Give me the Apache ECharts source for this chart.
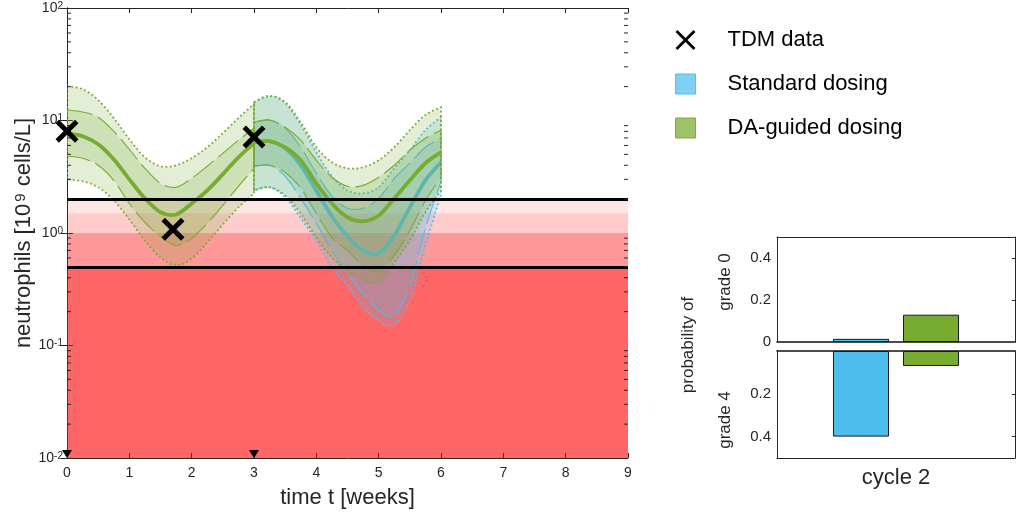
<!DOCTYPE html>
<html>
<head>
<meta charset="utf-8">
<script src="https://cdn.jsdelivr.net/npm/echarts@6/dist/echarts.min.js"></script>
<style>
  html, body { margin: 0; padding: 0; background: #fff; }
  #chart { width: 1016px; height: 514px; }
</style>
</head>
<body>
<div id="chart"></div>
<script>
// ---- neutrophil predictions (10^9 cells/L), weekly time axis ----
const weeksCycle1 = [0, 0.25, 0.5, 0.75, 1, 1.25, 1.5, 1.75, 2, 2.25, 2.5, 2.75, 3];
const weeksCycle2 = [3, 3.25, 3.5, 3.75, 4, 4.25, 4.5, 4.75, 5, 5.25, 5.5, 5.75, 6];

// cycle 1 (both arms identical)
const c1Upper90 = [20.2, 19.0, 15.2, 10.5, 6.82, 4.71, 3.92, 4.00, 4.62, 5.78, 7.71, 10.5, 14.0];
const c1Upper50 = [12.4, 11.9, 10.7, 8.03, 5.55, 3.76, 2.76, 2.55, 3.06, 3.92, 5.11, 6.68, 8.54];
const c1Median  = [7.71, 7.25, 6.15, 4.52, 3.00, 2.03, 1.53, 1.46, 1.83, 2.39, 3.33, 4.71, 6.28];
const c1Lower50 = [4.81, 4.62, 4.00, 2.94, 1.83, 1.24, 0.933, 0.776, 0.895, 1.22, 1.76, 2.60, 3.76];
const c1Lower90 = [3.00, 2.88, 2.55, 1.95, 1.32, 0.859, 0.606, 0.515, 0.594, 0.825, 1.19, 1.69, 2.25];

// cycle 2, DA-guided dosing
const daUpper90 = [14.6, 16.5, 14.6, 9.66, 5.78, 4.25, 3.76, 3.84, 4.43, 5.78, 8.20, 11.2, 13.1];
const daUpper50 = [9.66, 10.1, 8.72, 6.68, 4.43, 3.13, 2.60, 2.65, 3.13, 4.00, 5.44, 6.96, 8.20];
const daMedian  = [6.41, 6.54, 5.78, 4.43, 2.76, 1.83, 1.38, 1.27, 1.43, 2.03, 2.94, 4.17, 5.22];
const daLower50 = [3.92, 4.00, 3.46, 2.50, 1.49, 0.914, 0.700, 0.515, 0.455, 0.632, 1.05, 1.95, 3.06];
const daLower90 = [2.39, 2.55, 2.16, 1.49, 0.914, 0.606, 0.464, 0.386, 0.371, 0.547, 0.859, 1.53, 2.39];

// cycle 2, standard dosing
const stdUpper90 = [14.6, 16.5, 14.3, 9.08, 5.22, 3.19, 2.39, 2.25, 2.55, 3.76, 5.44, 8.20, 10.7];
const stdUpper50 = [9.66, 10.1, 8.54, 5.78, 3.39, 2.12, 1.66, 1.66, 2.03, 3.06, 4.17, 5.78, 6.96];
const stdMedian  = [6.41, 6.54, 5.67, 4.00, 2.39, 1.41, 0.933, 0.700, 0.658, 0.952, 1.69, 2.94, 4.25];
const stdLower50 = [3.92, 4.00, 3.19, 2.03, 1.22, 0.700, 0.437, 0.290, 0.205, 0.185, 0.341, 1.10, 2.90];
const stdLower90 = [2.39, 2.55, 2.08, 1.35, 0.859, 0.494, 0.341, 0.222, 0.167, 0.153, 0.251, 0.776, 2.20];

// measured counts and dosing times
const tdmWeeks  = [0, 1.7, 3];
const tdmCounts = [8.03, 1.08, 7.14];
const doseWeeks = [0, 3];

// neutropenia grade limits (10^9 cells/L)
const gradeEdges = [2.0, 1.5, 1.0, 0.5, 0.01];
const gradeLines = [2.0, 0.5];

// grade probabilities per cycle
const cycleLabels    = ['cycle 2'];
const grade0Standard = [0.015];
const grade0Guided   = [0.13];
const grade4Standard = [0.40];
const grade4Guided   = [0.07];

// ---- styling ----
const FONT = '"Liberation Sans", Arial, Helvetica, sans-serif';
const AXIS = '#262626';
const BLUE = [77, 190, 238];
const GREEN = [119, 172, 48];
const rgba = (c, a) => `rgba(${c[0]},${c[1]},${c[2]},${a})`;
const gradeAlpha = [0.1, 0.2, 0.4, 0.6];

function smoothPath(pts, move) {
  let d = (move ? 'M ' : 'L ') + pts[0][0] + ' ' + pts[0][1];
  for (let i = 0; i < pts.length - 1; i++) {
    const p0 = pts[i - 1] || pts[i], p1 = pts[i], p2 = pts[i + 1], p3 = pts[i + 2] || pts[i + 1];
    const c1 = [p1[0] + (p2[0] - p0[0]) / 6, p1[1] + (p2[1] - p0[1]) / 6];
    const c2 = [p2[0] - (p3[0] - p1[0]) / 6, p2[1] - (p3[1] - p1[1]) / 6];
    d += ' C ' + c1[0] + ' ' + c1[1] + ' ' + c2[0] + ' ' + c2[1] + ' ' + p2[0] + ' ' + p2[1];
  }
  return d;
}

function bandSeries(name, t, u90, u50, med, l50, l90, color, z) {
  return {
    type: 'custom', name, xAxisIndex: 0, yAxisIndex: 0, z, silent: true, clip: true,
    data: [[t[0], med[0]]],
    renderItem: (params, api) => {
      const pts = arr => arr.map((v, i) => api.coord([t[i], v]));
      const area = (up, lo) => smoothPath(pts(up), true) + ' ' + smoothPath(pts(lo).reverse(), false) + ' Z';
      return {
        type: 'group',
        children: [
          { type: 'path', shape: { pathData: area(u90, l90) },
            style: { fill: rgba(color, 0.2), stroke: rgba(color, 1), lineWidth: 1.8, lineDash: [1.8, 2.6] } },
          { type: 'path', shape: { pathData: area(u50, l50) },
            style: { fill: rgba(color, 0.2), stroke: rgba(color, 1), lineWidth: 1.1, lineDash: [26, 6] } },
          { type: 'path', shape: { pathData: smoothPath(pts(med), true) },
            style: { fill: 'none', stroke: rgba(color, 1), lineWidth: 3.8 } }
        ]
      };
    }
  };
}

// thick X marker
const crossPath = 'path://M0,3L3,0L10,7L17,0L20,3L13,10L20,17L17,20L10,13L3,20L0,17L7,10Z';
const crossThin = 'path://M0,2L2,0L10,8L18,0L20,2L12,10L20,18L18,20L10,12L2,20L0,18L8,10Z';

// minor ticks on the log axis
const minorTicks = [];
for (let e = -2; e < 2; e++) for (let m = 2; m <= 9; m++) minorTicks.push(m * Math.pow(10, e));

const gradeAreas = gradeAlpha.map((a, i) => [
  { yAxis: gradeEdges[i + 1], itemStyle: { color: rgba([255, 0, 0], a) } },
  { yAxis: gradeEdges[i] }
]);

const txt = { color: AXIS, fontFamily: FONT };

const option = {
  animation: false,
  backgroundColor: '#fff',
  textStyle: { fontFamily: FONT },
  grid: [
    { left: 67, top: 8, width: 561, height: 450, containLabel: false, outerBoundsMode: 'none' },
    { left: 777, top: 237, width: 238, height: 105, containLabel: false, outerBoundsMode: 'none' },
    { left: 777, top: 351, width: 238, height: 107, containLabel: false, outerBoundsMode: 'none' }
  ],
  legend: {
    orient: 'vertical', left: 675, top: 29, padding: 0, itemWidth: 20, itemHeight: 20, itemGap: 22,
    selectedMode: false,
    textStyle: { fontSize: 22, lineHeight: 22, color: '#000', fontFamily: FONT, padding: [0, 0, 0, 27] },
    data: [
      { name: 'TDM data', icon: crossThin, itemStyle: { color: '#000', opacity: 1 } },
      { name: 'Standard dosing', icon: 'rect', itemStyle: { color: rgba(BLUE, 0.72), borderColor: rgba(BLUE, 0.95), borderWidth: 1 } },
      { name: 'DA-guided dosing', icon: 'rect', itemStyle: { color: rgba(GREEN, 0.72), borderColor: rgba(GREEN, 0.95), borderWidth: 1 } }
    ]
  },
  xAxis: [
    { gridIndex: 0, type: 'value', min: 0, max: 9, interval: 1, position: 'bottom',
      axisLine: { show: true, onZero: false, lineStyle: { color: AXIS, width: 1 } },
      axisTick: { show: true, inside: true, length: 5, lineStyle: { color: AXIS } },
      axisLabel: { ...txt, fontSize: 14, margin: 8 },
      splitLine: { show: false },
      name: 'time t [weeks]', nameLocation: 'middle', nameGap: 29,
      nameTextStyle: { ...txt, fontSize: 22 } },
    { gridIndex: 0, type: 'value', min: 0, max: 9, interval: 1, position: 'top',
      axisLine: { show: true, onZero: false, lineStyle: { color: AXIS, width: 1 } },
      axisTick: { show: true, inside: true, length: 5, lineStyle: { color: AXIS } },
      axisLabel: { show: false }, splitLine: { show: false } },
    { gridIndex: 1, type: 'category', data: cycleLabels, position: 'bottom',
      axisLine: { show: true, onZero: false, lineStyle: { color: '#111', width: 1.5 } },
      axisTick: { show: false }, axisLabel: { show: false }, splitLine: { show: false } },
    { gridIndex: 1, type: 'category', data: cycleLabels, position: 'top',
      axisLine: { show: true, onZero: false, lineStyle: { color: AXIS, width: 1 } },
      axisTick: { show: false }, axisLabel: { show: false }, splitLine: { show: false } },
    { gridIndex: 2, type: 'category', data: cycleLabels, position: 'bottom',
      axisLine: { show: true, onZero: false, lineStyle: { color: AXIS, width: 1 } },
      axisTick: { show: false }, axisLabel: { ...txt, fontSize: 22, margin: 9 }, splitLine: { show: false } },
    { gridIndex: 2, type: 'category', data: cycleLabels, position: 'top',
      axisLine: { show: true, onZero: false, lineStyle: { color: '#111', width: 1.5 } },
      axisTick: { show: false }, axisLabel: { show: false }, splitLine: { show: false } }
  ],
  yAxis: [
    { gridIndex: 0, type: 'log', logBase: 10, min: 0.01, max: 100, position: 'left',
      axisLine: { show: true, lineStyle: { color: AXIS, width: 1 } },
      axisTick: { show: true, inside: true, length: 6, lineStyle: { color: AXIS } },
      axisLabel: {
        margin: 4,
        formatter: v => '{b|10}{e|' + Math.round(Math.log10(v)) + '}',
        rich: {
          b: { ...txt, fontSize: 14, lineHeight: 14, verticalAlign: 'bottom' },
          e: { ...txt, fontSize: 10, lineHeight: 10, padding: [0, 0, 8, 0], verticalAlign: 'top' }
        }
      },
      splitLine: { show: false } },
    { gridIndex: 0, type: 'log', logBase: 10, min: 0.01, max: 100, position: 'right',
      axisLine: { show: true, lineStyle: { color: AXIS, width: 1 } },
      axisTick: { show: true, inside: true, length: 6, lineStyle: { color: AXIS } },
      axisLabel: { show: false }, splitLine: { show: false } },
    { gridIndex: 1, type: 'value', min: 0, max: 0.5, position: 'left',
      axisLine: { show: true, lineStyle: { color: AXIS, width: 1 } },
      axisTick: { show: false },
      axisLabel: { ...txt, fontSize: 15, margin: 6, customValues: [0, 0.2, 0.4],
        formatter: v => (v === 0 ? '0' : v.toFixed(1)) },
      splitLine: { show: false } },
    { gridIndex: 1, type: 'value', min: 0, max: 0.5, position: 'right',
      axisLine: { show: true, lineStyle: { color: AXIS, width: 1 } },
      axisTick: { show: true, inside: true, length: 3, customValues: [0.2, 0.4], lineStyle: { color: AXIS } },
      axisLabel: { show: false }, splitLine: { show: false } },
    { gridIndex: 2, type: 'value', min: 0, max: 0.5, inverse: true, position: 'left',
      axisLine: { show: true, lineStyle: { color: AXIS, width: 1 } },
      axisTick: { show: false },
      axisLabel: { ...txt, fontSize: 15, margin: 6, customValues: [0.2, 0.4],
        formatter: v => v.toFixed(1) },
      splitLine: { show: false } },
    { gridIndex: 2, type: 'value', min: 0, max: 0.5, inverse: true, position: 'right',
      axisLine: { show: true, lineStyle: { color: AXIS, width: 1 } },
      axisTick: { show: true, inside: true, length: 3, customValues: [0.2, 0.4], lineStyle: { color: AXIS } },
      axisLabel: { show: false }, splitLine: { show: false } }
  ],
  graphic: [
    { type: 'text', x: 24, y: 233, rotation: Math.PI / 2, silent: true,
      style: { text: '{t|neutrophils [10}{s|9}{t| cells/L]}', align: 'center', verticalAlign: 'middle',
        rich: {
          t: { fontFamily: FONT, fontSize: 22, lineHeight: 22, fill: AXIS, verticalAlign: 'bottom' },
          s: { fontFamily: FONT, fontSize: 15, lineHeight: 15, fill: AXIS, padding: [0, 1, 9, 2], verticalAlign: 'top' }
        } } },
    { type: 'text', x: 688, y: 345, rotation: Math.PI / 2, silent: true,
      style: { text: 'probability of', fontFamily: FONT, fontSize: 17, fill: AXIS, align: 'center', verticalAlign: 'middle' } },
    { type: 'text', x: 725, y: 282, rotation: Math.PI / 2, silent: true,
      style: { text: 'grade 0', fontFamily: FONT, fontSize: 17, fill: AXIS, align: 'center', verticalAlign: 'middle' } },
    { type: 'text', x: 725, y: 420, rotation: Math.PI / 2, silent: true,
      style: { text: 'grade 4', fontFamily: FONT, fontSize: 17, fill: AXIS, align: 'center', verticalAlign: 'middle' } }
  ],
  series: [
    // grade shading and grade limits
    { type: 'line', xAxisIndex: 0, yAxisIndex: 0, z: 1, silent: true, data: [[0, 1]],
      showSymbol: false, lineStyle: { width: 0 },
      markArea: { silent: true, data: gradeAreas },
      markLine: { silent: true, symbol: 'none', label: { show: false },
        lineStyle: { color: '#000', width: 3, type: 'solid' },
        data: gradeLines.map(v => ({ yAxis: v })) } },
    // minor ticks of the log axis (left and right frame)
    { type: 'custom', xAxisIndex: 0, yAxisIndex: 0, z: 6, silent: true, clip: false,
      data: minorTicks.map(v => [0, v]),
      renderItem: (params, api) => {
        const v = api.value(1);
        const l = api.coord([0, v]), r = api.coord([9, v]);
        return { type: 'group', children: [
          { type: 'line', shape: { x1: l[0], y1: l[1], x2: l[0] + 4, y2: l[1] }, style: { stroke: AXIS, lineWidth: 1 } },
          { type: 'line', shape: { x1: r[0], y1: r[1], x2: r[0] - 4, y2: r[1] }, style: { stroke: AXIS, lineWidth: 1 } }
        ] };
      } },
    bandSeries('Standard dosing', weeksCycle2, stdUpper90, stdUpper50, stdMedian, stdLower50, stdLower90, BLUE, 3),
    bandSeries('DA-guided dosing', weeksCycle1, c1Upper90, c1Upper50, c1Median, c1Lower50, c1Lower90, GREEN, 4),
    bandSeries('DA-guided dosing', weeksCycle2, daUpper90, daUpper50, daMedian, daLower50, daLower90, GREEN, 4),
    { name: 'TDM data', type: 'scatter', xAxisIndex: 0, yAxisIndex: 0, z: 10, clip: false, silent: true,
      symbol: crossPath, symbolSize: 23, itemStyle: { color: '#000', opacity: 1 },
      data: tdmWeeks.map((t, i) => [t, tdmCounts[i]]) },
    { type: 'scatter', xAxisIndex: 0, yAxisIndex: 0, z: 10, clip: false, silent: true,
      symbol: 'triangle', symbolRotate: 180, symbolSize: [10, 8], symbolOffset: [0, -4],
      itemStyle: { color: '#000', opacity: 1 },
      data: doseWeeks.map(t => [t, 0.01]) },
    // grade probabilities
    { type: 'bar', xAxisIndex: 2, yAxisIndex: 2, barWidth: 56, barGap: '25%', silent: true,
      itemStyle: { color: rgba(BLUE, 1), borderColor: '#1a1a1a', borderWidth: 1 }, data: grade0Standard },
    { type: 'bar', xAxisIndex: 2, yAxisIndex: 2, barWidth: 56, barGap: '25%', silent: true,
      itemStyle: { color: rgba(GREEN, 1), borderColor: '#1a1a1a', borderWidth: 1 }, data: grade0Guided },
    { type: 'bar', xAxisIndex: 4, yAxisIndex: 4, barWidth: 56, barGap: '25%', silent: true,
      itemStyle: { color: rgba(BLUE, 1), borderColor: '#1a1a1a', borderWidth: 1 }, data: grade4Standard },
    { type: 'bar', xAxisIndex: 4, yAxisIndex: 4, barWidth: 56, barGap: '25%', silent: true,
      itemStyle: { color: rgba(GREEN, 1), borderColor: '#1a1a1a', borderWidth: 1 }, data: grade4Guided }
  ]
};

const chart = echarts.init(document.getElementById('chart'), null, { renderer: 'canvas' });
chart.setOption(option);
</script>
</body>
</html>
